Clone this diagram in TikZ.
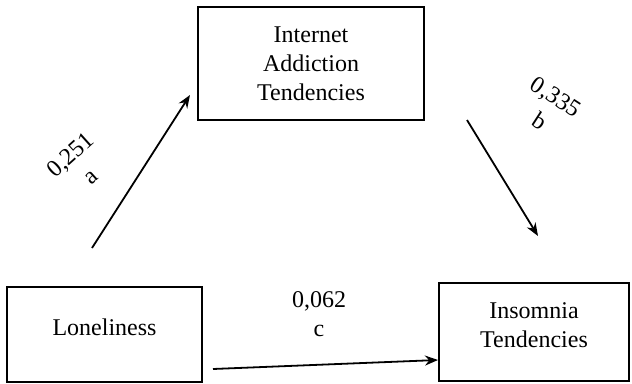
\documentclass[tikz,border=0pt]{standalone}
\usepackage{fontspec}
\setmainfont{Liberation Serif}
\usetikzlibrary{arrows.meta}
\begin{document}
\begin{tikzpicture}[x=1pt,y=-1pt,
  font=\fontsize{24}{29}\selectfont,
  box/.style={draw, line width=1.1pt, align=center, inner sep=0pt},
  effect/.style={-{Stealth[length=13pt,width=10pt]}, line width=1.8pt},
  coef/.style={align=center, inner sep=0pt}]
\useasboundingbox (0,0) rectangle (632,383);
\node[box, minimum width=226pt, minimum height=113pt] (internet) at (311,63.5) {Internet\\ Addiction\\ Tendencies};
\node[box, minimum width=195pt, minimum height=95pt, text depth=14pt] (lonely) at (104.5,334.5) {Loneliness};
\node[box, minimum width=190pt, minimum height=98pt, text depth=14pt] (insomnia) at (534,332) {Insomnia\\ Tendencies};

\coordinate (aStart) at (92,248);
\coordinate (aEnd) at (190,95);
\coordinate (bStart) at (467,120);
\coordinate (bEnd) at (538,236);
\coordinate (cStart) at (213,369);
\coordinate (cEnd) at (438,360);

\draw[effect] (aStart) -- (aEnd);
\draw[effect] (bStart) -- (bEnd);
\draw[effect] (cStart) -- (cEnd);

\node[coef, rotate=42] (coefA) at (80,165) {0,251\\ a};
\node[coef, rotate=-33] (coefB) at (548,109) {0,335\\ b};
\node[coef] (coefC) at (319,314) {0,062\\ c};
\end{tikzpicture}
\end{document}
